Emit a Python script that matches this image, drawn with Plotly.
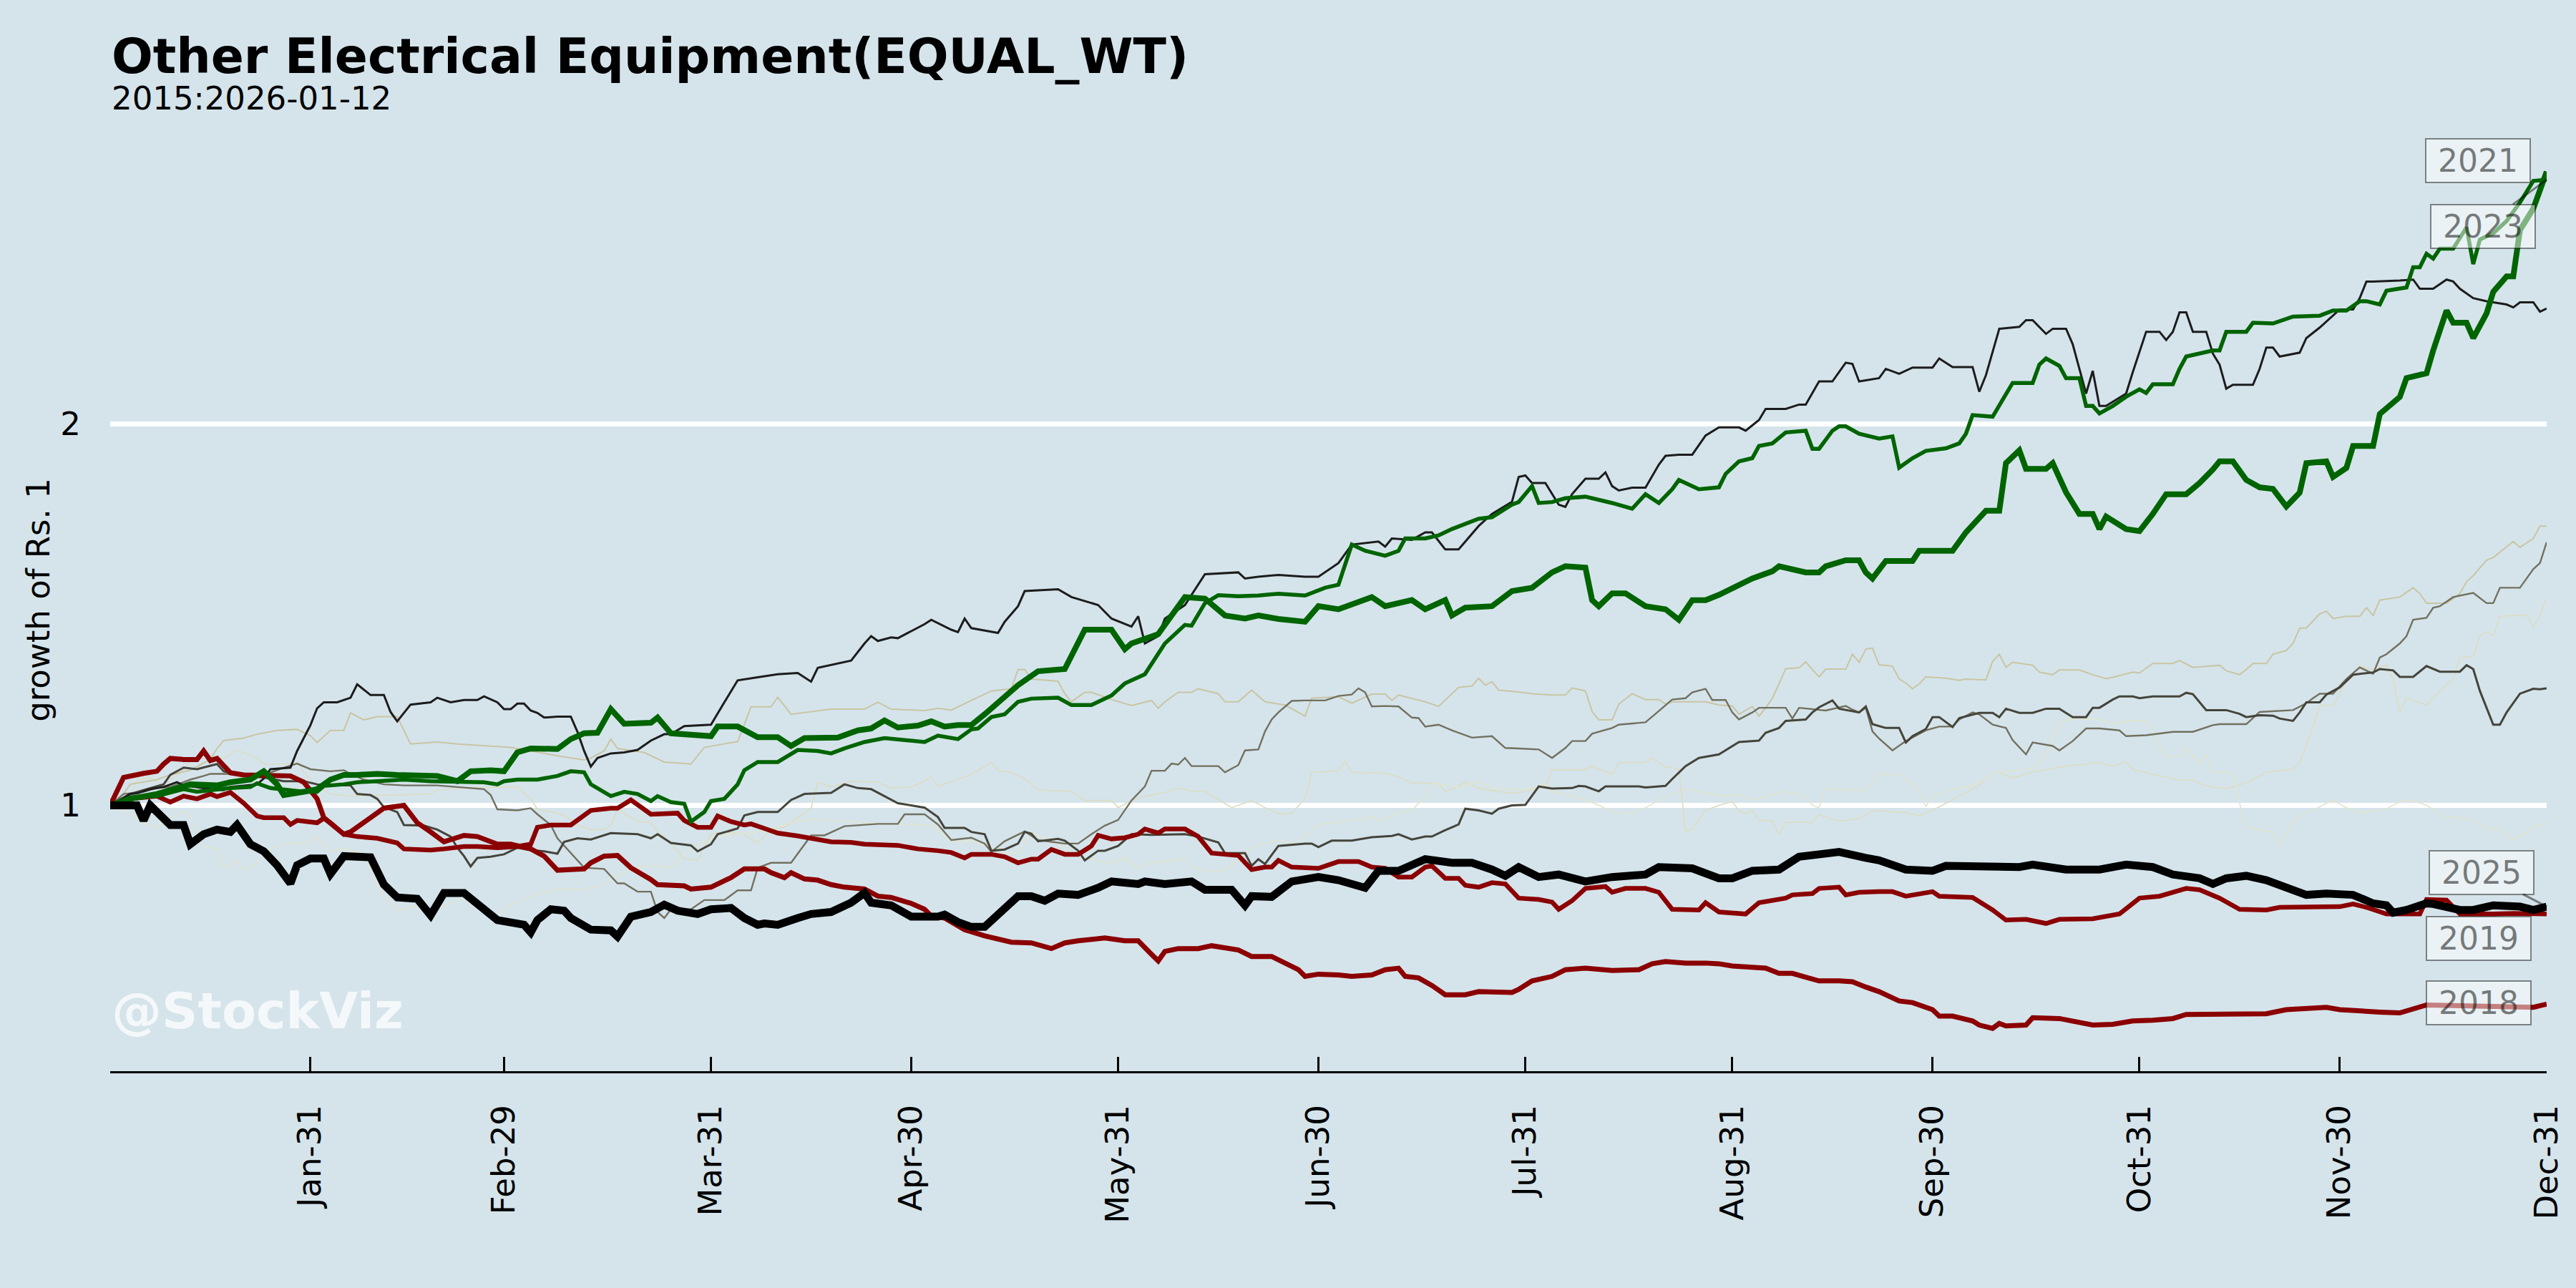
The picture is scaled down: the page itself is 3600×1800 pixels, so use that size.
import math
import pandas as pd
import plotly.graph_objects as go

# ---------------- data (day-of-year offset from Jan-01, growth of Rs. 1) ----------------
BASE_DATE = "2024-01-01"   # leap-year calendar used for the month-day axis
TICK_DATES = ["2024-01-31", "2024-02-29", "2024-03-31", "2024-04-30", "2024-05-31", "2024-06-30",
              "2024-07-31", "2024-08-31", "2024-09-30", "2024-10-31", "2024-11-30", "2024-12-31"]
TICK_LABELS = ["Jan-31", "Feb-29", "Mar-31", "Apr-30", "May-31", "Jun-30",
               "Jul-31", "Aug-31", "Sep-30", "Oct-31", "Nov-30", "Dec-31"]
Y_TICKS = [1, 2]

S2015 = [(0,1.0),(3,1.012),(4,1.048),(6,1.052),(8,1.034),(9,1.048),(11,1.066),(12,1.085),(16,1.094),(17,1.089),
         (19,1.106),(22,1.089),(23,1.078),(26,1.078),(28,1.080),(30,1.048),(31,1.036),(33,1.021),(36,1.017),(41,1.019),
         (48,1.021),(49,1.028),(53,1.032),(59,1.034),(61,1.034),(63,1.012),(64,0.993),(67,0.986),(68,0.982),(70,0.965),
         (72,0.957),(74,0.957),(75,0.965),(76,0.993),(79,0.971),(81,0.969),(82,0.953),(83,0.944),(85,0.920),(86,0.908),
         (88,0.905),(89,0.928),(90,0.949),(92,0.953),(95,0.949),(97,0.934),(99,0.957),(101,0.961),(105,0.995),(106,1.043),
         (108,1.034),(111,1.045),(115,1.043),(117,1.032),(120,1.034),(122,1.045),(123,1.053),(124,1.035),(126,1.044),(129,1.058),
         (132,1.081),(133,1.065),(135,1.062),(137,1.049),(139,1.028),(144,1.026),(146,1.009),(150,1.009),(151,0.996),(153,1.009),
         (155,1.017),(158,1.024),(160,1.032),(162,1.026),(164,1.026),(166,1.011),(168,0.996),(171,1.009),(173,0.996),(175,0.985),
         (177,0.985),(179,1.013),(180,1.062),(184,1.065),(185,1.083),(186,1.062),(191,1.060),(193,1.053),(195,1.042),(199,1.040),
         (200,1.026),(202,1.035),(203,1.044),(205,1.031),(210,1.022),(212,1.026),(215,1.035),(216,1.067),(221,1.067),(222,1.074),
         (225,1.058),(226,1.081),(230,1.081),(231,1.090),(233,1.072),(235,1.069),(236,0.953),(237,0.958),(239,0.991),(241,1.000),
         (243,1.007),(244,0.990),(245,0.985),(246,0.991),(247,0.974),(249,0.972),(250,0.949),(251,0.970),(255,0.970),(256,0.983),
         (259,0.972),(262,0.976),(264,0.991),(269,0.987),(271,0.981),(273,0.991),(275,1.004),(277,1.017),(280,1.037),(282,1.062),
         (283,1.062),(285,1.051),(288,1.062),(292,1.072),(295,1.076),(298,1.081),(300,1.074),(302,1.083),(303,1.067),(306,1.058),
         (310,1.047),(312,1.047),(314,1.036),(317,1.031),(320,1.042),(323,1.062),(327,1.068),(328,1.081),(329,1.117),(330,1.153),
         (331,1.199),(333,1.199),(334,1.225),(335,1.258),(337,1.288),(339,1.280),(341,1.291),(342,1.258),(343,1.184),(344,1.215),
         (347,1.200),(349,1.231),(351,1.258),(352,1.308),(354,1.311),(355,1.360),(356,1.371),(357,1.360),(358,1.410),(362,1.413),
         (363,1.383),(364,1.413),(365,1.460)]

S2016 = [(0,1.0),(3,0.986),(5,0.969),(7,0.961),(8,0.969),(11,0.990),(12,0.978),(14,0.928),(16,0.924),(17,0.893),
         (19,0.904),(20,0.889),(22,0.900),(23,0.920),(26,0.932),(30,0.936),(31,0.944),(33,0.920),(35,0.924),(38,0.916),
         (40,0.866),(41,0.851),(43,0.826),(46,0.833),(48,0.826),(51,0.837),(53,0.844),(55,0.829),(58,0.819),(59,0.829),
         (61,0.840),(64,0.851),(67,0.859),(71,0.859),(74,0.866),(76,0.881),(79,0.893),(81,0.897),(84,0.893),(86,0.916),
         (87,0.924),(89,0.936),(92,0.947),(97,0.953),(102,0.969),(105,0.976),(113,0.969),(122,0.965),(123,0.966),(126,0.937),
         (129,0.937),(131,0.931),(134,0.917),(136,0.917),(138,0.951),(141,0.939),(143,0.925),(146,0.909),(150,0.900),(152,0.909),
         (154,0.892),(156,0.901),(161,0.907),(162,0.894),(164,0.888),(166,0.886),(168,0.896),(170,0.919),(172,0.931),(175,0.939),
         (177,0.933),(179,0.945),(181,0.966),(184,0.970),(188,0.976),(189,0.981),(190,0.972),(193,0.987),(195,0.991),(197,1.017),
         (198,1.042),(202,1.033),(205,1.044),(207,1.032),(210,1.029),(213,1.031),(215,1.040),(216,1.026),(221,1.011),(223,1.000),
         (225,0.989),(228,0.985),(230,0.996),(233,1.015),(236,1.031),(239,1.022),(242,1.017),(244,1.020),(246,1.009),(248,1.017),
         (251,1.026),(254,1.017),(255,1.000),(256,0.996),(257,1.031),(261,1.028),(263,1.028),(265,1.058),(268,1.058),(270,1.040),
         (271,1.026),(272,0.998),(273,1.017),(277,1.033),(278,1.033),(281,1.049),(282,1.062),(283,1.062),(288,1.069),(290,1.095),
         (291,1.131),(292,1.163),(294,1.171),(298,1.169),(300,1.161),(303,1.166),(305,1.166),(306,1.144),(307,1.114),(308,1.093),
         (310,1.093),(311,1.110),(313,1.079),(314,1.097),(315,1.062),(317,1.062),(318,1.058),(319,1.004),(320,0.962),(321,0.958),
         (323,0.955),(324,0.953),(325,0.929),(326,0.949),(327,0.970),(329,0.987),(330,0.991),(332,1.004),(333,1.009),(335,0.996),
         (337,0.987),(339,0.989),(341,0.994),(343,1.007),(345,1.009),(347,1.000),(350,0.979),(353,0.977),(355,0.968),(356,0.958),
         (358,0.958),(360,0.939),(361,0.947),(363,0.960),(365,0.970)]

S2017 = [(0,1.0),(2,1.021),(3,1.039),(7,1.048),(9,1.057),(12,1.066),(15,1.087),(16,1.109),(17,1.125),(20,1.130),
         (22,1.138),(25,1.146),(28,1.148),(30,1.135),(31,1.121),(33,1.146),(35,1.146),(36,1.183),(38,1.168),(40,1.175),
         (43,1.175),(45,1.118),(49,1.122),(52,1.118),(60,1.111),(64,1.101),(68,1.092),(71,1.086),(72,1.090),(74,1.104),
         (75,1.128),(76,1.109),(80,1.101),(83,1.082),(87,1.078),(89,1.111),(94,1.123),(95,1.158),(96,1.196),(99,1.196),
         (100,1.217),(102,1.180),(105,1.186),(108,1.191),(113,1.191),(115,1.206),(117,1.191),(122,1.188),(124,1.193),(126,1.189),
         (129,1.210),(132,1.231),(135,1.236),(136,1.280),(137,1.280),(138,1.258),(142,1.253),(143,1.225),(144,1.207),(146,1.228),
         (147,1.228),(150,1.212),(153,1.199),(156,1.210),(157,1.193),(158,1.207),(160,1.228),(162,1.228),(163,1.236),(166,1.225),
         (167,1.207),(169,1.207),(171,1.233),(173,1.207),(176,1.200),(179,1.176),(180,1.215),(184,1.218),(186,1.204),(189,1.224),
         (191,1.224),(192,1.210),(193,1.222),(197,1.207),(199,1.197),(201,1.225),(202,1.239),(204,1.242),(205,1.260),(206,1.244),
         (207,1.252),(208,1.233),(211,1.229),(213,1.225),(216,1.222),(218,1.222),(219,1.238),(221,1.231),(222,1.186),(223,1.168),
         (225,1.168),(226,1.202),(228,1.225),(230,1.212),(232,1.212),(233,1.202),(234,1.207),(239,1.207),(241,1.200),(243,1.198),
         (244,1.180),(246,1.197),(247,1.176),(248,1.194),(249,1.215),(250,1.247),(251,1.282),(253,1.284),(254,1.298),(255,1.280),
         (256,1.263),(257,1.281),(260,1.281),(261,1.316),(262,1.297),(263,1.328),(264,1.331),(265,1.291),(267,1.288),(268,1.258),
         (269,1.249),(270,1.236),(271,1.247),(272,1.263),(275,1.260),(277,1.255),(278,1.258),(281,1.256),(282,1.299),(283,1.316),
         (284,1.285),(285,1.297),(288,1.290),(289,1.274),(291,1.268),(292,1.279),(295,1.279),(297,1.268),(299,1.259),(300,1.262),
         (303,1.274),(304,1.272),(306,1.294),(309,1.294),(310,1.301),(312,1.285),(316,1.290),(317,1.277),(319,1.268),(320,1.280),
         (321,1.294),(323,1.294),(324,1.316),(326,1.325),(327,1.342),(328,1.380),(329,1.380),(331,1.416),(332,1.423),(333,1.404),
         (335,1.410),(337,1.410),(338,1.432),(339,1.412),(340,1.452),(343,1.460),(345,1.485),(346,1.469),(347,1.444),(350,1.444),
         (352,1.469),(353,1.501),(354,1.518),(356,1.561),(357,1.569),(360,1.615),(361,1.598),(363,1.624),(364,1.661),(365,1.661)]

S2018 = [(0,1.0),(2,1.052),(5,1.060),(7,1.064),(8,1.078),(9,1.089),(11,1.087),(13,1.087),(14,1.104),(15,1.085),
         (16,1.089),(18,1.061),(20,1.057),(24,1.057),(27,1.055),(29,1.043),(31,1.012),(32,0.978),(35,0.949),(36,0.953),
         (38,0.969),(41,0.995),(44,1.000),(46,0.969),(48,0.953),(50,0.936),(53,0.947),(55,0.945),(58,0.932),(60,0.932),
         (63,0.924),(65,0.912),(67,0.889),(69,0.889),(71,0.891),(72,0.901),(74,0.912),(76,0.913),(78,0.893),(81,0.874),
         (82,0.866),(86,0.864),(87,0.859),(90,0.862),(93,0.877),(95,0.891),(98,0.891),(99,0.885),(101,0.877),(102,0.885),
         (104,0.875),(106,0.873),(108,0.866),(110,0.862),(113,0.859),(115,0.848),(117,0.846),(120,0.837),(122,0.828),(123,0.818),
         (125,0.815),(128,0.798),(131,0.789),(135,0.780),(138,0.779),(141,0.771),(143,0.779),(145,0.782),(149,0.786),(152,0.782),
         (154,0.782),(156,0.763),(157,0.754),(158,0.767),(160,0.771),(163,0.771),(165,0.775),(169,0.769),(171,0.760),(174,0.760),
         (176,0.750),(178,0.742),(179,0.733),(181,0.736),(184,0.735),(186,0.733),(189,0.735),(191,0.742),(193,0.744),(194,0.733),
         (196,0.731),(198,0.721),(200,0.709),(203,0.709),(205,0.713),(207,0.713),(210,0.712),(211,0.716),(213,0.727),(216,0.733),
         (218,0.742),(221,0.744),(225,0.741),(229,0.742),(231,0.750),(233,0.753),(236,0.751),(239,0.751),(241,0.750),(243,0.747),
         (246,0.745),(248,0.744),(250,0.737),(252,0.737),(254,0.732),(256,0.727),(259,0.727),(261,0.726),(263,0.719),(265,0.713),
         (268,0.701),(270,0.699),(273,0.690),(274,0.682),(276,0.682),(279,0.676),(280,0.671),(282,0.667),(283,0.673),(284,0.670),
         (287,0.671),(288,0.680),(292,0.679),(294,0.676),(297,0.671),(300,0.672),(303,0.676),(306,0.677),(309,0.679),(311,0.684),
         (315,0.684),(320,0.685),(323,0.685),(326,0.690),(329,0.692),(332,0.693),(334,0.690),(337,0.688),(340,0.687),(343,0.686),
         (346,0.694),(347,0.696),(352,0.695),(357,0.694),(361,0.693),(363,0.693),(365,0.697)]

S2019 = [(0,1.0),(3,1.012),(7,1.017),(9,1.006),(11,1.017),(13,1.012),(15,1.021),(16,1.016),(18,1.024),(20,1.004),
         (22,0.981),(23,0.978),(26,0.978),(27,0.966),(28,0.973),(31,0.969),(32,0.977),(33,0.969),(35,0.949),(37,0.945),
         (40,0.942),(43,0.934),(44,0.924),(48,0.922),(50,0.924),(53,0.928),(55,0.928),(58,0.926),(61,0.928),(63,0.932),
         (64,0.961),(66,0.965),(69,0.965),(71,0.982),(72,0.991),(75,0.995),(76,0.995),(78,1.010),(80,0.993),(81,0.984),
         (85,0.986),(86,0.973),(88,0.961),(90,0.961),(91,0.981),(93,0.971),(95,0.965),(96,0.967),(98,0.959),(100,0.951),
         (103,0.946),(105,0.942),(108,0.936),(111,0.935),(113,0.932),(118,0.930),(121,0.924),(124,0.921),(126,0.918),(128,0.909),
         (129,0.915),(132,0.915),(134,0.911),(136,0.901),(138,0.907),(139,0.907),(141,0.923),(143,0.915),(145,0.915),(147,0.929),
         (148,0.947),(150,0.941),(152,0.943),(154,0.949),(155,0.958),(157,0.951),(158,0.958),(161,0.958),(163,0.945),(165,0.917),
         (167,0.915),(169,0.913),(171,0.890),(173,0.894),(174,0.894),(175,0.905),(177,0.894),(181,0.892),(184,0.903),(187,0.903),
         (189,0.894),(191,0.892),(193,0.878),(195,0.878),(197,0.894),(198,0.896),(200,0.876),(202,0.876),(203,0.865),(205,0.862),
         (207,0.869),(209,0.867),(211,0.845),(214,0.843),(216,0.839),(217,0.828),(219,0.841),(221,0.860),(224,0.863),(225,0.854),
         (227,0.860),(230,0.860),(232,0.854),(234,0.828),(238,0.827),(239,0.838),(241,0.824),(245,0.821),(247,0.838),(249,0.841),
         (251,0.845),(252,0.850),(255,0.852),(256,0.860),(259,0.862),(260,0.850),(262,0.854),(265,0.855),(267,0.855),(269,0.848),
         (273,0.855),(274,0.848),(279,0.846),(282,0.827),(284,0.812),(287,0.813),(290,0.807),(292,0.813),(295,0.813),(297,0.814),
         (301,0.821),(304,0.845),(307,0.848),(309,0.854),(311,0.860),(313,0.858),(315,0.850),(316,0.845),(319,0.828),(321,0.827),
         (323,0.827),(325,0.831),(329,0.831),(331,0.832),(334,0.832),(336,0.836),(338,0.831),(341,0.821),(344,0.822),(346,0.821),
         (347,0.843),(350,0.842),(352,0.821),(355,0.820),(357,0.821),(360,0.822),(362,0.821),(365,0.821)]

S2020 = [(0,1.0),(2,1.021),(5,1.025),(7,1.032),(9,1.034),(12,1.048),(14,1.055),(15,1.059),(18,1.059),(23,1.057),
         (26,1.071),(28,1.079),(30,1.068),(33,1.064),(35,1.066),(36,1.059),(38,1.048),(41,1.039),(44,1.037),(49,1.037),
         (54,1.032),(56,1.030),(57,1.019),(58,0.993),(61,0.991),(63,0.995),(64,0.984),(66,0.965),(67,0.942),(71,0.893),
         (74,0.891),(76,0.868),(77,0.868),(79,0.855),(81,0.855),(82,0.824),(83,0.815),(84,0.828),(87,0.828),(89,0.842),
         (92,0.842),(94,0.857),(96,0.857),(97,0.893),(99,0.901),(102,0.901),(105,0.947),(107,0.947),(110,0.963),(115,0.967),
         (118,0.967),(119,0.984),(122,0.984),(123,0.975),(124,0.966),(126,0.939),(129,0.943),(131,0.933),(132,0.919),(134,0.937),
         (137,0.954),(139,0.939),(143,0.933),(145,0.933),(147,0.949),(149,0.964),(151,0.974),(153,1.009),(155,1.035),(156,1.065),
         (158,1.065),(159,1.079),(160,1.077),(161,1.090),(162,1.074),(166,1.074),(167,1.062),(169,1.076),(170,1.105),(172,1.107),
         (173,1.144),(174,1.169),(175,1.184),(177,1.209),(179,1.210),(182,1.210),(184,1.220),(186,1.223),(187,1.237),(188,1.228),
         (189,1.197),(191,1.198),(193,1.197),(195,1.173),(196,1.172),(197,1.154),(199,1.158),(201,1.146),(202,1.141),(204,1.131),
         (207,1.134),(209,1.110),(211,1.109),(214,1.107),(216,1.090),(218,1.110),(219,1.124),(221,1.124),(222,1.139),(225,1.151),
         (226,1.158),(230,1.163),(232,1.187),(233,1.199),(234,1.212),(236,1.215),(237,1.228),(239,1.236),(240,1.211),(242,1.211),
         (243,1.184),(244,1.169),(246,1.184),(247,1.194),(251,1.194),(252,1.171),(253,1.194),(257,1.188),(260,1.198),(261,1.190),
         (262,1.184),(263,1.194),(264,1.144),(265,1.129),(267,1.105),(269,1.124),(272,1.146),(274,1.154),(276,1.154),(277,1.169),
         (279,1.184),(280,1.180),(282,1.158),(284,1.151),(285,1.126),(287,1.097),(288,1.121),(291,1.114),(292,1.105),(294,1.124),
         (296,1.150),(298,1.150),(301,1.146),(302,1.134),(305,1.136),(309,1.143),(312,1.143),(315,1.157),(316,1.159),(320,1.159),
         (322,1.185),(327,1.189),(329,1.204),(330,1.215),(331,1.225),(333,1.225),(335,1.258),(337,1.285),(339,1.270),(340,1.308),
         (341,1.316),(343,1.342),(344,1.360),(345,1.401),(347,1.406),(348,1.432),(349,1.436),(351,1.460),(354,1.471),(356,1.444),
         (357,1.444),(358,1.485),(361,1.485),(363,1.536),(364,1.553),(365,1.613)]

S2021 = [(0,1.0),(3,1.012),(7,1.021),(10,1.032),(12,1.039),(16,1.037),(18,1.043),(21,1.048),(23,1.064),(25,1.039),
         (26,1.019),(29,1.025),(31,1.030),(33,1.048),(35,1.057),(37,1.057),(40,1.059),(43,1.057),(46,1.057),(49,1.055),
         (52,1.045),(54,1.064),(57,1.066),(59,1.064),(61,1.101),(63,1.109),(67,1.108),(69,1.128),(71,1.140),(73,1.141),
         (75,1.191),(77,1.160),(81,1.162),(82,1.173),(84,1.140),(87,1.138),(90,1.134),(91,1.154),(94,1.154),(97,1.132),
         (100,1.132),(102,1.114),(104,1.130),(109,1.131),(112,1.146),(114,1.150),(116,1.167),(118,1.152),(121,1.156),(123,1.165),
         (125,1.154),(127,1.157),(129,1.157),(131,1.180),(134,1.216),(136,1.244),(139,1.276),(143,1.281),(146,1.376),(150,1.376),
         (152,1.328),(153,1.342),(157,1.365),(161,1.460),(164,1.456),(167,1.412),(170,1.404),(172,1.412),(175,1.403),(179,1.396),
         (181,1.436),(184,1.428),(189,1.460),(191,1.436),(195,1.452),(197,1.428),(200,1.452),(201,1.412),(203,1.432),(207,1.436),
         (210,1.476),(213,1.485),(216,1.527),(218,1.544),(221,1.540),(222,1.452),(223,1.436),(225,1.470),(227,1.470),(230,1.436),
         (233,1.428),(235,1.401),(237,1.452),(239,1.452),(241,1.466),(243,1.485),(246,1.510),(249,1.530),(250,1.544),(254,1.527),
         (256,1.527),(257,1.544),(260,1.561),(262,1.561),(263,1.527),(264,1.510),(266,1.559),(270,1.559),(271,1.588),(276,1.588),
         (278,1.642),(281,1.708),(283,1.708),(284,1.862),(286,1.906),(287,1.843),(290,1.843),(291,1.862),(293,1.766),(295,1.698),
         (297,1.698),(298,1.652),(299,1.690),(302,1.652),(304,1.646),(306,1.698),(308,1.760),(311,1.760),(313,1.796),(315,1.841),
         (316,1.868),(318,1.868),(320,1.806),(322,1.782),(324,1.777),(326,1.721),(328,1.765),(329,1.862),(332,1.868),(333,1.816),
         (335,1.846),(336,1.921),(339,1.921),(340,2.036),(343,2.100),(344,2.173),(347,2.192),(348,2.285),(350,2.457),(351,2.403),
         (353,2.403),(354,2.337),(356,2.444),(357,2.542),(359,2.614),(360,2.614),(361,2.843),(363,2.957),(365,3.162)]

S2022 = [(0,1.0),(3,1.021),(6,1.032),(8,1.039),(9,1.057),(11,1.071),(13,1.068),(15,1.075),(16,1.078),(17,1.064),
         (20,1.055),(23,1.052),(26,1.045),(29,1.045),(31,1.039),(35,1.037),(36,1.037),(37,1.021),(39,1.019),(40,1.012),
         (41,0.997),(43,0.988),(44,0.965),(47,0.964),(49,0.957),(51,0.945),(52,0.926),(53,0.912),(54,0.895),(55,0.909),
         (57,0.911),(59,0.915),(61,0.926),(63,0.922),(65,0.920),(67,0.916),(68,0.936),(70,0.942),(72,0.940),(75,0.951),
         (79,0.949),(81,0.942),(82,0.949),(84,0.934),(87,0.930),(88,0.920),(90,0.932),(91,0.949),(94,0.959),(95,0.982),
         (97,0.988),(100,0.988),(102,1.010),(104,1.021),(108,1.023),(110,1.039),(112,1.032),(114,1.030),(116,1.017),(118,1.004),
         (122,0.996),(124,0.979),(125,0.960),(128,0.960),(129,0.953),(131,0.949),(132,0.921),(134,0.923),(136,0.933),(137,0.953),
         (138,0.950),(139,0.937),(142,0.941),(143,0.938),(145,0.921),(146,0.905),(148,0.921),(149,0.921),(151,0.929),(153,0.949),
         (156,0.948),(161,0.949),(163,0.945),(166,0.935),(167,0.917),(170,0.917),(171,0.896),(172,0.907),(173,0.899),(175,0.929),
         (179,0.933),(180,0.933),(181,0.927),(183,0.938),(186,0.938),(189,0.944),(192,0.946),(193,0.949),(195,0.940),(197,0.945),
         (198,0.945),(200,0.956),(202,0.966),(203,0.994),(205,0.991),(207,0.985),(208,0.994),(210,1.000),(212,1.001),(214,1.035),
         (216,1.031),(219,1.032),(220,1.036),(221,1.035),(223,1.026),(224,1.035),(229,1.035),(230,1.033),(233,1.036),(234,1.049),
         (236,1.074),(238,1.090),(241,1.097),(243,1.113),(244,1.122),(247,1.125),(248,1.141),(250,1.151),(251,1.166),(254,1.169),
         (255,1.184),(256,1.195),(258,1.210),(259,1.192),(260,1.189),(262,1.184),(263,1.197),(264,1.159),(266,1.151),(268,1.151),
         (269,1.121),(270,1.134),(272,1.149),(273,1.174),(274,1.174),(276,1.153),(277,1.172),(280,1.183),(282,1.183),(283,1.174),
         (284,1.192),(286,1.183),(288,1.183),(290,1.192),(292,1.192),(294,1.174),(296,1.174),(297,1.194),(298,1.194),(300,1.212),
         (301,1.219),(303,1.219),(304,1.215),(306,1.219),(310,1.219),(311,1.227),(312,1.224),(314,1.189),(315,1.189),(317,1.189),
         (319,1.181),(320,1.174),(322,1.178),(324,1.177),(325,1.171),(327,1.166),(328,1.184),(329,1.206),(331,1.206),(332,1.223),
         (334,1.239),(336,1.268),(337,1.270),(339,1.273),(340,1.281),(342,1.278),(343,1.263),(345,1.263),(347,1.288),(349,1.275),
         (352,1.275),(353,1.290),(354,1.281),(355,1.231),(357,1.158),(358,1.158),(359,1.184),(361,1.225),(363,1.236),(364,1.235),
         (365,1.237)]

S2023 = [(0,1.0),(3,1.015),(7,1.017),(9,1.023),(11,1.030),(13,1.025),(15,1.028),(18,1.032),(21,1.034),(22,1.041),
         (24,1.032),(29,1.025),(31,1.025),(32,1.036),(35,1.039),(37,1.043),(40,1.045),(44,1.048),(48,1.045),(53,1.043),
         (56,1.043),(58,1.039),(59,1.045),(61,1.048),(64,1.048),(67,1.055),(69,1.064),(71,1.062),(72,1.039),(75,1.017),
         (77,1.025),(79,1.021),(81,1.008),(82,1.017),(84,1.006),(86,1.003),(87,0.971),(89,0.988),(90,1.008),(92,1.012),
         (94,1.039),(95,1.066),(97,1.082),(100,1.082),(103,1.106),(106,1.104),(108,1.099),(110,1.109),(113,1.122),(116,1.130),
         (118,1.128),(122,1.122),(124,1.135),(127,1.128),(129,1.148),(130,1.150),(132,1.174),(134,1.180),(136,1.207),(138,1.214),
         (142,1.216),(144,1.200),(147,1.200),(150,1.221),(152,1.248),(155,1.269),(158,1.342),(161,1.388),(162,1.386),(164,1.444),
         (166,1.465),(169,1.462),(172,1.464),(175,1.469),(179,1.464),(182,1.485),(184,1.493),(186,1.606),(188,1.588),(191,1.574),
         (193,1.588),(194,1.624),(197,1.624),(199,1.633),(201,1.652),(202,1.659),(205,1.683),(207,1.688),(210,1.727),(211,1.735),
         (213,1.786),(214,1.732),(216,1.735),(218,1.747),(221,1.752),(225,1.732),(228,1.714),(230,1.760),(232,1.732),(234,1.776),
         (235,1.806),(238,1.776),(241,1.782),(242,1.826),(244,1.868),(246,1.879),(247,1.921),(249,1.930),(251,1.969),(254,1.975),
         (255,1.911),(256,1.911),(258,1.975),(259,1.991),(260,1.991),(262,1.964),(265,1.947),(267,1.955),(268,1.847),(270,1.879),
         (272,1.904),(275,1.913),(277,1.930),(278,1.964),(279,2.032),(282,2.026),(285,2.154),(288,2.154),(289,2.227),(290,2.252),
         (292,2.222),(293,2.173),(295,2.173),(296,2.066),(297,2.066),(298,2.038),(300,2.066),(302,2.101),(304,2.129),(305,2.115),
         (306,2.149),(309,2.149),(310,2.210),(311,2.260),(315,2.285),(316,2.285),(317,2.364),(320,2.364),(321,2.403),(324,2.400),
         (327,2.430),(331,2.434),(333,2.457),(335,2.457),(337,2.499),(338,2.499),(340,2.484),(341,2.547),(344,2.562),(345,2.658),
         (346,2.658),(347,2.724),(348,2.700),(349,2.749),(351,2.749),(353,2.858),(354,2.673),(355,2.795),(357,2.827),(359,2.891),
         (361,2.990),(363,3.109),(365,3.116)]

S2024 = [(0,1.0),(3,1.021),(4,1.022),(6,1.030),(8,1.034),(10,1.043),(11,1.037),(15,1.030),(17,1.028),(18,1.034),
         (22,1.039),(23,1.050),(24,1.068),(27,1.071),(28,1.104),(30,1.157),(31,1.193),(32,1.206),(34,1.206),(36,1.216),
         (37,1.246),(39,1.222),(41,1.222),(42,1.185),(43,1.165),(45,1.201),(48,1.206),(49,1.216),(51,1.206),(53,1.211),
         (55,1.211),(56,1.219),(58,1.206),(59,1.191),(60,1.191),(61,1.203),(62,1.203),(63,1.188),(64,1.183),(65,1.173),
         (67,1.175),(69,1.175),(70,1.143),(71,1.104),(72,1.073),(73,1.090),(75,1.099),(77,1.101),(79,1.106),(81,1.125),
         (83,1.138),(84,1.138),(86,1.155),(90,1.158),(92,1.206),(94,1.255),(97,1.262),(100,1.269),(103,1.272),(105,1.252),
         (106,1.284),(108,1.291),(111,1.301),(113,1.342),(114,1.360),(115,1.348),(117,1.357),(118,1.355),(122,1.390),(123,1.401),
         (126,1.376),(127,1.370),(128,1.404),(129,1.380),(133,1.368),(134,1.396),(136,1.436),(137,1.476),(142,1.481),(144,1.460),
         (148,1.439),(150,1.404),(153,1.384),(154,1.410),(155,1.342),(157,1.360),(158,1.404),(161,1.439),(163,1.493),(164,1.522),
         (169,1.527),(170,1.510),(172,1.515),(175,1.520),(179,1.515),(181,1.515),(184,1.553),(186,1.606),(190,1.615),(191,1.600),
         (192,1.624),(195,1.620),(197,1.642),(198,1.642),(200,1.592),(202,1.592),(205,1.661),(207,1.698),(210,1.736),(211,1.816),
         (212,1.821),(213,1.796),(215,1.796),(217,1.727),(218,1.720),(219,1.760),(221,1.810),(223,1.810),(224,1.831),(225,1.786),
         (226,1.772),(228,1.781),(230,1.781),(232,1.857),(233,1.887),(235,1.891),(237,1.891),(239,1.958),(241,1.987),(244,1.987),
         (245,1.975),(247,2.014),(248,2.055),(251,2.055),(253,2.071),(254,2.071),(256,2.160),(258,2.160),(260,2.235),(261,2.230),
         (262,2.160),(265,2.173),(266,2.210),(268,2.190),(270,2.215),(273,2.215),(274,2.252),(276,2.217),(279,2.217),(280,2.120),
         (281,2.185),(283,2.377),(286,2.385),(287,2.414),(288,2.414),(290,2.355),(291,2.377),(293,2.377),(294,2.311),(296,2.113),
         (297,2.202),(298,2.066),(299,2.066),(302,2.113),(303,2.197),(305,2.364),(307,2.364),(308,2.329),(309,2.364),(310,2.449),
         (311,2.449),(312,2.364),(314,2.364),(315,2.272),(316,2.227),(317,2.132),(318,2.147),(321,2.147),(322,2.210),(323,2.297),
         (324,2.297),(325,2.260),(328,2.276),(329,2.337),(331,2.382),(334,2.462),(336,2.462),(337,2.513),(338,2.590),(339,2.590),
         (343,2.595),(345,2.599),(346,2.556),(348,2.556),(350,2.599),(351,2.590),(352,2.556),(354,2.513),(356,2.499),(359,2.484),
         (360,2.471),(361,2.494),(363,2.494),(364,2.452),(365,2.466)]

S2025 = [(0,1.000),(4,1.000),(5,0.973),(6,1.000),(9,0.965),(11,0.965),(12,0.932),(14,0.949),(16,0.957),(18,0.953),
         (19,0.965),(21,0.932),(23,0.920),(25,0.897),(27,0.868),(28,0.897),(30,0.908),(32,0.908),(33,0.883),(35,0.912),
         (39,0.910),(41,0.866),(43,0.846),(46,0.844),(48,0.819),(50,0.853),(53,0.853),(54,0.844),(58,0.812),(62,0.805),
         (63,0.794),(64,0.812),(66,0.828),(68,0.826),(69,0.815),(72,0.798),(75,0.797),(76,0.788),(78,0.817),(81,0.824),
         (83,0.835),(85,0.826),(88,0.821),(90,0.828),(93,0.830),(95,0.815),(97,0.805),(98,0.807),(100,0.805),(103,0.815),
         (105,0.821),(108,0.824),(111,0.838),(113,0.853),(114,0.838),(117,0.834),(120,0.817),(124,0.817),(125,0.820),(127,0.809),
         (129,0.802),(131,0.802),(133,0.820),(136,0.848),(138,0.848),(140,0.841),(142,0.852),(145,0.850),(148,0.861),(150,0.871),
         (154,0.867),(155,0.871),(158,0.867),(162,0.871),(164,0.858),(168,0.858),(170,0.834),(171,0.848),(174,0.847),(177,0.871),
         (181,0.878),(184,0.873),(188,0.861),(190,0.888),(193,0.888),(197,0.907),(201,0.901),(204,0.901),(207,0.890),(209,0.880),
         (211,0.894),(214,0.878),(217,0.882),(221,0.871),(225,0.878),(230,0.882),(232,0.894),(237,0.892),(241,0.876),(243,0.876),
         (246,0.888),(250,0.890),(253,0.911),(255,0.913),(259,0.919),(263,0.909),(265,0.905),(269,0.890),(273,0.888),(275,0.896),
         (282,0.896),(286,0.894),(288,0.898),(293,0.890),(298,0.890),(302,0.898),(306,0.894),(309,0.882),(313,0.876),(315,0.867),
         (317,0.876),(320,0.880),(323,0.873),(326,0.861),(329,0.850),(332,0.852),(336,0.850),(339,0.837),(341,0.834),(342,0.823),
         (344,0.827),(347,0.837),(348,0.836),(352,0.827),(354,0.827),(357,0.834),(361,0.832),(363,0.827),(365,0.832)]

# drawing order: background years first, highlighted years on top
SERIES = [
    ("2015", S2015, "#dcdcc2", 1.6),
    ("2016", S2016, "#e1e5cf", 1.6),
    ("2017", S2017, "#c9c5a3", 2.0),
    ("2020", S2020, "#72705f", 2.4),
    ("2022", S2022, "#45443a", 3.0),
    ("2024", S2024, "#1c1c1c", 3.0),
    ("2018", S2018, "#8b0000", 7.0),
    ("2019", S2019, "#8b0000", 6.5),
    ("2021", S2021, "#006400", 8.0),
    ("2023", S2023, "#006400", 5.5),
    ("2025", S2025, "#000000", 11.0),
]
LABELLED = ["2021", "2023", "2025", "2019", "2018"]
# label box offsets (pixels) from each labelled line's last point, and whether a leader segment shows
LABEL_OFFSETS = {"2021": (-96, -15, False), "2023": (-89, 65, True), "2025": (-91, -48, True),
                 "2019": (-95, 34, False), "2018": (-95, -2, False)}

FONT = "DejaVu Sans"
BG = "#d5e4eb"


def to_dates(days):
    base = pd.Timestamp(BASE_DATE)
    return [(base + pd.Timedelta(days=int(d))).strftime("%Y-%m-%d") for d in days]


fig = go.Figure()
ends = {}
all_vals = []
for name, pts, color, width in SERIES:
    days = [p[0] for p in pts]
    vals = [p[1] for p in pts]
    all_vals.extend(vals)
    xs = to_dates(days)
    ends[name] = (xs[-1], vals[-1])
    fig.add_trace(go.Scatter(x=xs, y=vals, mode="lines", name=name,
                             line=dict(color=color, width=width), showlegend=False,
                             hoverinfo="skip"))

lo, hi = math.log10(min(all_vals)), math.log10(max(all_vals))
pad = 0.05 * (hi - lo)
yrange = [lo - pad, hi + pad]

for name in LABELLED:
    xe, ve = ends[name]
    dx, dy, seg = LABEL_OFFSETS[name]
    common = dict(x=xe, y=math.log10(ve), xref="x", yref="y", text=name,
                  font=dict(family=FONT, size=44, color="rgba(0,0,0,0.5)"),
                  bgcolor="rgba(255,255,255,0.5)", bordercolor="rgba(0,0,0,0.45)",
                  borderwidth=2, borderpad=1, width=142, height=57, align="center")
    if seg:
        fig.add_annotation(**common, showarrow=True, ax=dx, ay=dy, axref="pixel", ayref="pixel",
                           arrowhead=0, arrowwidth=3, arrowcolor="rgba(0,0,0,0.45)", standoff=0)
    else:
        fig.add_annotation(**common, showarrow=False, xshift=dx, yshift=-dy,
                           xanchor="center", yanchor="middle")

# titles and watermark
fig.add_annotation(xref="paper", yref="paper", x=0, y=1.0774, xanchor="left", yanchor="middle",
                   text="<b>Other Electrical Equipment(EQUAL_WT)</b>", showarrow=False,
                   font=dict(family=FONT, size=68, color="black"))
fig.add_annotation(xref="paper", yref="paper", x=0, y=1.0319, xanchor="left", yanchor="middle",
                   text="2015:2026-01-12", showarrow=False,
                   font=dict(family=FONT, size=45, color="black"))
fig.add_annotation(xref="paper", yref="paper", x=0, y=0.064, xanchor="left", yanchor="middle",
                   xshift=0, text="<b>@StockViz</b>", showarrow=False,
                   font=dict(family=FONT, size=70, color="rgba(255,255,255,0.75)"))

fig.update_layout(
    width=3600, height=1800,
    paper_bgcolor=BG, plot_bgcolor=BG,
    margin=dict(l=154, r=41, t=180, b=303, autoexpand=False),
    font=dict(family=FONT, size=45, color="black"),
    showlegend=False,
    xaxis=dict(type="date", range=[BASE_DATE, TICK_DATES[-1]], showgrid=False, zeroline=False,
               showline=True, linecolor="black", linewidth=3,
               ticks="inside", ticklen=20, tickwidth=3, tickcolor="black",
               tickmode="array", tickvals=TICK_DATES, ticktext=TICK_LABELS, tickangle=-90,
               tickfont=dict(family=FONT, size=45, color="black"), ticklabelstandoff=26),
    yaxis=dict(type="log", range=yrange, showgrid=True, gridcolor="white", gridwidth=7,
               zeroline=False, showline=False, ticks="",
               tickmode="array", tickvals=Y_TICKS, ticktext=[str(v) for v in Y_TICKS],
               tickfont=dict(family=FONT, size=45, color="black"), ticklabelstandoff=40,
               title=dict(text="growth of Rs. 1", font=dict(family=FONT, size=45, color="black"),
                          standoff=0)),
)

fig.write_html("out.html", config={"displayModeBar": False},
               post_script="document.body.style.margin='0px';"
                           "document.body.style.background='#d5e4eb';")
